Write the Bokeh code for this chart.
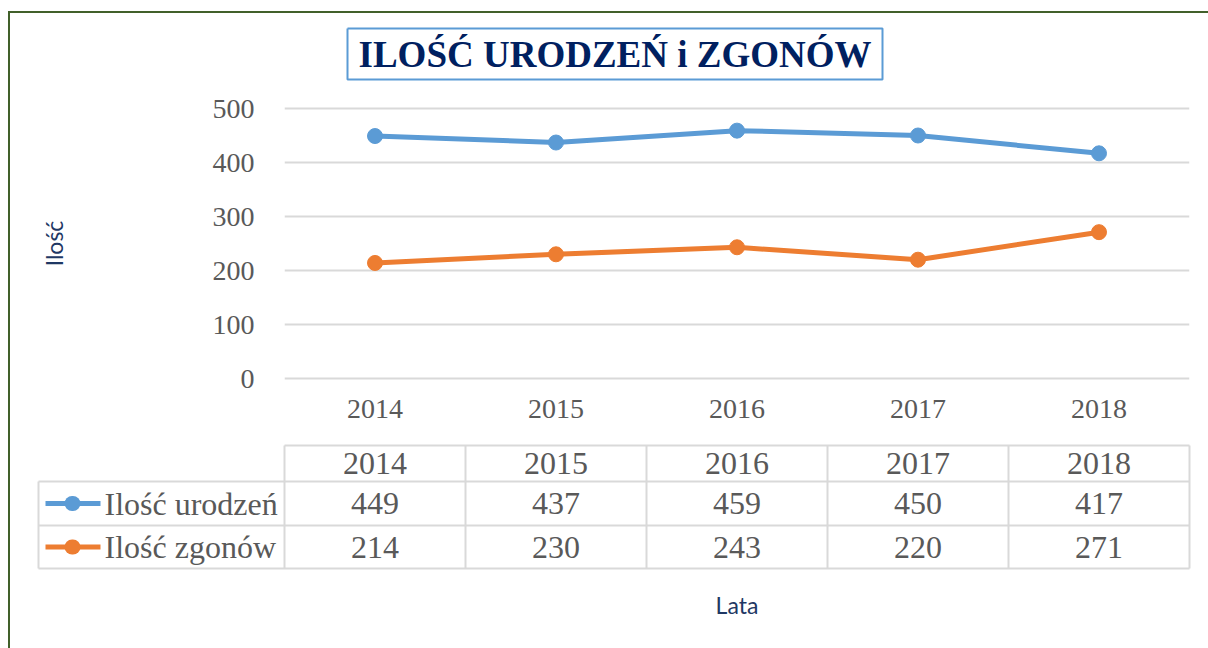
from bokeh.plotting import figure
from bokeh.models import Range1d, FixedTicker, Div
from bokeh.models import ColumnDataSource
from bokeh.layouts import column, row
from bokeh.core.properties import value
from bokeh.embed import file_html
from bokeh.resources import INLINE

# ---------------- data ----------------
years = ["2014", "2015", "2016", "2017", "2018"]
urodzenia = [449, 437, 459, 450, 417]
zgony = [214, 230, 243, 220, 271]
y_ticks = [0, 100, 200, 300, 400, 500]
series_names = ["Ilość urodzeń", "Ilość zgonów"]
title_text = "ILOŚĆ URODZEŃ i ZGONÓW"
y_label = "Ilość"
x_label = "Lata"

# ---------------- style ----------------
BLUE = "#5b9bd5"
ORANGE = "#ed7d31"
GRID = "#d9d9d9"
TXT = "#595959"
NAVY = "#002060"
LBL = "#1f3864"
GREEN = "#41602a"
SERIF = "Liberation Serif"
SANS = "Lato"

# ---------------- layout constants (px, figure coordinates) ----------------
W = 1198
H = 635
FL, FR = 274, 1179          # chart frame left / right
Y0_PX, YMAX_PX = 365, 95    # pixel rows of 0 and of the top tick
PAD = 3
FT, FB = YMAX_PX - PAD, Y0_PX + PAD
n = len(years)
unit = (FR - FL) / n
ppu = (Y0_PX - YMAX_PX) / y_ticks[-1]

# ---------------- chart ----------------
A = figure(width=W, height=H, x_range=years,
           y_range=Range1d(-PAD / ppu, y_ticks[-1] + PAD / ppu),
           output_backend="svg", toolbar_location=None,
           min_border_left=FL, min_border_right=W - FR,
           min_border_top=FT, min_border_bottom=H - FB)
A.outline_line_color = None
A.background_fill_color = "white"
A.border_fill_color = "white"
A.xgrid.grid_line_color = None
A.ygrid.grid_line_color = GRID
A.ygrid.grid_line_width = 2
A.yaxis.ticker = FixedTicker(ticks=y_ticks)
for ax in (A.xaxis[0], A.yaxis[0]):
    ax.axis_line_color = None
    ax.major_tick_line_color = None
    ax.minor_tick_line_color = None
    ax.major_label_text_font = SERIF
    ax.major_label_text_font_size = "28px"
    ax.major_label_text_color = TXT
    ax.axis_label_text_font = SANS
    ax.axis_label_text_font_size = "23px"
    ax.axis_label_text_font_style = "normal"
    ax.axis_label_text_color = LBL
A.xaxis.major_label_standoff = 12
A.yaxis.major_label_standoff = 24
A.yaxis.axis_label = y_label
A.yaxis.axis_label_standoff = 142
A.xaxis.axis_label = x_label
A.xaxis.axis_label_standoff = 170

src = ColumnDataSource(dict(year=years, ur=urodzenia, zg=zgony))
A.line(x="year", y="ur", source=src, line_width=5, line_color=BLUE)
A.scatter(x="year", y="ur", source=src, size=15, fill_color=BLUE, line_color=BLUE)
A.line(x="year", y="zg", source=src, line_width=5, line_color=ORANGE)
A.scatter(x="year", y="zg", source=src, size=15, fill_color=ORANGE, line_color=ORANGE)

# ---------------- outside-frame layer ----------------
# x: synthetic categorical coordinates (column i spans i..i+1); y: pixels above frame bottom
A.extra_y_ranges = {"px": Range1d(0, FB - FT)}
tx = lambda px: (px - FL) / unit          # figure px -> column units
ty = lambda px: FB - px                   # figure px -> pixel rows
tk = dict(y_range_name="px", level="overlay")

# title box
bx0, bx1, by0, by1 = tx(337), tx(872), ty(15), ty(66)
A.line(x=[bx0, bx1, bx1, bx0, bx0], y=[by0, by0, by1, by1, by0], line_color=BLUE, line_width=2, **tk)
A.text(x=[tx(604.5)], y=[ty(41)], text=[title_text], text_font=value(SERIF), text_font_style="bold",
       text_font_size="37px", text_color=NAVY, text_align="center", text_baseline="middle", **tk)

# data table
row_edges = [ty(555), ty(512), ty(468), ty(432)]
leg_left = tx(28)

hx0 = [0, leg_left, leg_left, leg_left]
hy = [row_edges[3], row_edges[2], row_edges[1], row_edges[0]]
A.segment(x0=hx0, y0=hy, x1=[n] * 4, y1=hy, line_color=GRID, line_width=2, **tk)
vx = [leg_left] + list(range(n + 1))
vy1 = [row_edges[2]] + [row_edges[3]] * (n + 1)
A.segment(x0=vx, y0=[row_edges[0]] * (n + 2), x1=vx, y1=vy1, line_color=GRID, line_width=2, **tk)

centers = [i + 0.5 for i in range(n)]
row_mid = [(row_edges[i] + row_edges[i + 1]) / 2 for i in range(3)]
tkw = dict(text_font=value(SERIF), text_font_size="32px", text_color=TXT,
           text_align="center", text_baseline="middle")
A.text(x=centers, y=[row_mid[2]] * n, text=years, **tkw, **tk)
A.text(x=centers, y=[row_mid[1]] * n, text=[str(v) for v in urodzenia], **tkw, **tk)
A.text(x=centers, y=[row_mid[0]] * n, text=[str(v) for v in zgony], **tkw, **tk)

eps = 0.5 / unit
for name, col, ym in ((series_names[0], BLUE, row_mid[1]), (series_names[1], ORANGE, row_mid[0])):
    A.line(x=[tx(35), tx(90)], y=[ym, ym], line_color=col, line_width=5, **tk)
    A.line(x=[tx(62) - eps, tx(62) + eps], y=[ym, ym], line_color=col, line_width=15,
           line_cap="round", **tk)
    A.text(x=[tx(94)], y=[ym], text=[name], text_font=value(SERIF), text_font_size="32px",
           text_color=TXT, text_align="left", text_baseline="middle", **tk)

# ---------------- outer frame border ----------------
top_gap = Div(text="", width=W + 10, height=11, margin=0)
top_bar = Div(text="", width=W + 2, height=2, margin=(0, 0, 0, 8), styles={"background-color": GREEN})
left_gap = Div(text="", width=8, height=H, margin=0)
left_bar = Div(text="", width=2, height=H, margin=0, styles={"background-color": GREEN})

layout = column(top_gap, top_bar, row(left_gap, left_bar, A, spacing=0), spacing=0)

open("out.html", "w").write(file_html(layout, INLINE))
